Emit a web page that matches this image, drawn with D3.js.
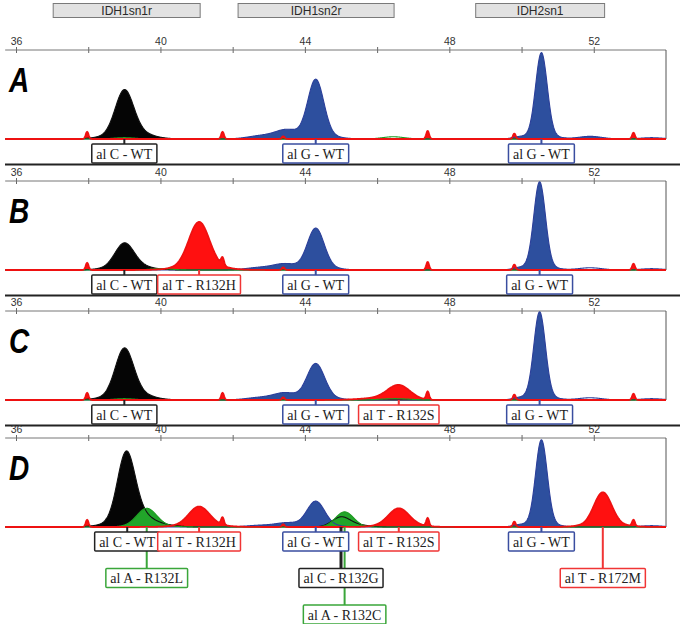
<!DOCTYPE html>
<html>
<head>
<meta charset="utf-8">
<script src="https://cdn.jsdelivr.net/npm/d3@7"></script>
<style>
html,body{margin:0;padding:0;background:#fff;}
svg{display:block;}
</style>
</head>
<body>
<svg id="chart" width="683" height="624"></svg>
<script>
// ---------------- DATA ----------------
const panelNames = ["A", "B", "C", "D"];
const majorTicks = [36, 40, 44, 48, 52];
const minorTicks = [38, 42, 46, 50];
const headerNames = ["IDH1sn1r", "IDH1sn2r", "IDH2sn1"];
const headerStart = [37.03, 42.15, 48.73];
const headerEnd = [41.10, 46.47, 52.30];

// size-standard markers (red spikes): position (bp), height (% of panel)
const markerPos = [37.97, 41.72, 43.40, 47.40, 49.80, 53.10];
const markerHeight = [8, 8, 3, 9, 6, 7];

// peaks: [dye, position bp, height %, width bp, called]
const peaksA = [
  ["black", 39.00, 48, 0.25, 1], ["black", 39.05, 6, 0.55, 0], ["black", 39.40, 3, 0.35, 0],
  ["blue", 44.30, 62, 0.22, 1], ["blue", 44.35, 5, 0.45, 0], ["blue", 43.50, 9, 0.30, 0], ["blue", 42.85, 4, 0.40, 0],
  ["blue", 50.55, 92, 0.16, 1], ["blue", 50.58, 5, 0.35, 0], ["blue", 49.95, 2, 0.20, 0], ["blue", 51.90, 3, 0.32, 0], ["blue", 53.60, 1.5, 0.30, 0],
  ["green", 46.45, 2.5, 0.30, 0], ["green", 39.00, 1.5, 0.30, 0]
];
const peaksB = [
  ["black", 39.00, 26, 0.26, 1], ["black", 39.05, 3.5, 0.55, 0], ["black", 39.40, 2, 0.35, 0],
  ["red", 41.07, 48, 0.28, 1], ["red", 41.10, 6, 0.55, 0],
  ["blue", 44.30, 43, 0.23, 1], ["blue", 44.35, 4, 0.45, 0], ["blue", 43.45, 6, 0.30, 0], ["blue", 42.80, 3, 0.40, 0],
  ["blue", 50.50, 94, 0.16, 1], ["blue", 50.53, 5, 0.35, 0], ["blue", 49.95, 2, 0.20, 0], ["blue", 51.90, 2.5, 0.32, 0], ["blue", 53.60, 1.5, 0.30, 0],
  ["green", 40.00, 1.5, 0.30, 0]
];
const peaksC = [
  ["black", 39.00, 51, 0.25, 1], ["black", 39.05, 6, 0.55, 0], ["black", 39.40, 3, 0.35, 0],
  ["blue", 44.30, 37, 0.24, 1], ["blue", 44.35, 4, 0.45, 0], ["blue", 43.45, 7, 0.30, 0], ["blue", 42.80, 3, 0.40, 0],
  ["red", 46.60, 16, 0.31, 1], ["red", 46.00, 2, 0.50, 0],
  ["blue", 50.50, 94, 0.16, 1], ["blue", 50.53, 5, 0.35, 0], ["blue", 49.95, 2, 0.20, 0], ["blue", 51.90, 2.5, 0.32, 0], ["blue", 53.60, 1.5, 0.30, 0],
  ["green", 39.00, 1.5, 0.30, 0], ["green", 46.50, 1.5, 0.40, 0]
];
const peaksD = [
  ["black", 39.05, 75, 0.24, 1], ["black", 39.10, 7, 0.55, 0], ["black", 39.45, 8, 0.30, 0], ["black", 40.00, 2, 0.40, 0],
  ["green", 39.62, 19, 0.27, 1], ["green", 39.65, 2, 0.50, 0],
  ["red", 41.07, 20, 0.28, 1], ["red", 41.10, 3, 0.55, 0],
  ["blue", 44.30, 26, 0.24, 1], ["blue", 44.35, 3, 0.45, 0], ["blue", 43.50, 4, 0.30, 0], ["blue", 42.80, 2, 0.40, 0],
  ["black", 45.00, 11, 0.25, 1], ["black", 45.50, 2, 0.30, 0],
  ["green", 45.10, 17, 0.25, 1],
  ["red", 46.60, 18, 0.28, 1], ["red", 46.62, 3, 0.50, 0],
  ["blue", 50.55, 93, 0.16, 1], ["blue", 50.58, 5, 0.35, 0], ["blue", 49.95, 2, 0.20, 0], ["blue", 53.60, 1.5, 0.30, 0],
  ["red", 52.25, 35, 0.24, 1], ["red", 52.28, 4, 0.50, 0]
];
const peaksByPanel = [peaksA, peaksB, peaksC, peaksD];

// allele labels: [text, dye, position bp, row]
const labelsA = [
  ["al C - WT", "black", 39.00, 1], ["al G - WT", "blue", 44.30, 1], ["al G - WT", "blue", 50.55, 1]
];
const labelsB = [
  ["al C - WT", "black", 39.00, 1], ["al T - R132H", "red", 41.07, 1],
  ["al G - WT", "blue", 44.30, 1], ["al G - WT", "blue", 50.50, 1]
];
const labelsC = [
  ["al C - WT", "black", 39.00, 1], ["al G - WT", "blue", 44.30, 1],
  ["al T - R132S", "red", 46.60, 1], ["al G - WT", "blue", 50.50, 1]
];
const labelsD = [
  ["al C - WT", "black", 39.08, 1], ["al T - R132H", "red", 41.07, 1],
  ["al A - R132L", "green", 39.62, 2],
  ["al G - WT", "blue", 44.30, 1], ["al C - R132G", "black", 45.00, 2],
  ["al A - R132C", "green", 45.10, 3], ["al T - R132S", "red", 46.60, 1],
  ["al G - WT", "blue", 50.55, 1], ["al T - R172M", "red", 52.25, 2]
];
const labelsByPanel = [labelsA, labelsB, labelsC, labelsD];

// ---------------- STYLE / LAYOUT ----------------
const fillColor = {black: "#050505", blue: "#2d4f9e", green: "#22a52a", red: "#ff1010"};
const lineColor = {black: "#111111", blue: "#2b3f9a", green: "#1e9a22", red: "#ee1111"};
const boxColor = {black: "#222222", blue: "#3a4ea0", green: "#3aa63a", red: "#f03535"};
const axisY = [50, 181, 311, 438];
const plotH = 89;
const separatorsY = [164.5, 295.5, 425.5];

const svg = d3.select("#chart");
const x = d3.scaleLinear().domain([36, 54]).range([16, 666]);
const step = 0.01;
const xs = d3.range(35.7, 54.0001, step);

// headers
headerNames.forEach((name, i) => {
  const x0 = x(headerStart[i]), x1 = x(headerEnd[i]);
  svg.append("rect").attr("x", x0).attr("y", 3.5).attr("width", x1 - x0).attr("height", 14)
    .attr("fill", "#e2e2e2").attr("stroke", "#7a7a7a").attr("stroke-width", 1);
  svg.append("text").attr("x", (x0 + x1) / 2).attr("y", 14.8).attr("text-anchor", "middle")
    .attr("font-family", "Liberation Sans, Arial, sans-serif").attr("font-size", 12)
    .attr("fill", "#2a2a2a").text(name);
});

// separators
separatorsY.forEach(sy => {
  svg.append("line").attr("x1", 5).attr("x2", 680).attr("y1", sy).attr("y2", sy)
    .attr("stroke", "#222").attr("stroke-width", 2);
});

const dyeOrder = ["blue", "black", "green", "red"];

panelNames.forEach((pname, pi) => {
  const top = axisY[pi];
  const base = top + plotH;
  const y = d3.scaleLinear().domain([0, 100]).range([base, top]);
  const g = svg.append("g");

  // axis
  const ax = g.append("g").attr("transform", `translate(0,${top})`)
    .call(d3.axisTop(x).tickValues(majorTicks.concat(minorTicks).sort((a, b) => a - b))
      .tickFormat(d => majorTicks.includes(d) ? d : "")
      .tickSizeInner(3).tickSizeOuter(0).tickPadding(2));
  ax.select(".domain").remove();
  ax.selectAll(".tick line").attr("y1", 3).attr("stroke", "#666");
  ax.selectAll(".tick text").attr("font-family", "Liberation Sans, Arial, sans-serif")
    .attr("font-size", 10.5).attr("fill", "#333");
  g.append("line").attr("x1", x(35.7)).attr("x2", x(54)).attr("y1", top).attr("y2", top)
    .attr("stroke", "#777").attr("stroke-width", 1);
  // right border
  g.append("line").attr("x1", x(54)).attr("x2", x(54)).attr("y1", top).attr("y2", base)
    .attr("stroke", "#555").attr("stroke-width", 1);

  // panel letter (condensed bold italic)
  g.append("text").attr("transform", `translate(9,${top + 42}) scale(0.8,1)`)
    .attr("font-family", "Liberation Sans Narrow, Arial Narrow, Liberation Sans, sans-serif")
    .attr("font-weight", "bold").attr("font-style", "italic").attr("font-size", 35)
    .attr("fill", "#000").text(pname);

  // build per-dye peak lists (markers belong to red)
  const peaks = peaksByPanel[pi].slice();
  markerPos.forEach((m, k) => peaks.push(["red", m, markerHeight[k], 0.04, 1]));
  const trace = dye => xs.map(v => {
    let s = 0;
    peaks.forEach(p => { if (p[0] === dye) s += p[2] * Math.exp(-0.5 * Math.pow((v - p[1]) / p[3], 2)); });
    return [v, s];
  });
  const traces = {};
  dyeOrder.forEach(d => traces[d] = trace(d));

  const area = d3.area().x(d => x(d[0])).y0(base).y1(d => y(d[1]));
  const line = d3.line().x(d => x(d[0])).y(d => y(d[1]));

  // filled called peaks: contiguous region around peak above threshold
  const thr = 1.0;
  dyeOrder.forEach(d => {
    const tr = traces[d];
    peaks.filter(p => p[0] === d && p[4]).forEach(p => {
      let c = Math.round((p[1] - xs[0]) / step);
      let lo = c, hi = c;
      while (lo > 0 && tr[lo - 1][1] > thr) lo--;
      while (hi < tr.length - 1 && tr[hi + 1][1] > thr) hi++;
      const seg = tr.slice(lo, hi + 1);
      g.append("path").attr("d", area(seg)).attr("fill", fillColor[d]);
    });
  });
  // trace outlines
  dyeOrder.forEach(d => {
    g.append("path").attr("d", line(traces[d])).attr("fill", "none")
      .attr("stroke", lineColor[d]).attr("stroke-width", d === "red" ? 1.8 : 1.1);
  });

  // labels
  const labs = labelsByPanel[pi];
  const rowTop = r => base + 5 + (r - 1) * 36.5;
  const boxH = 19;
  labs.forEach(l => {
    const cx = x(l[2]);
    g.append("line").attr("x1", cx).attr("x2", cx).attr("y1", base).attr("y2", rowTop(l[3]))
      .attr("stroke", boxColor[l[1]]).attr("stroke-width", l[1] === "black" && l[3] > 1 ? 3 : 2);
  });
  labs.forEach(l => {
    const cx = x(l[2]);
    const t = g.append("text").attr("x", cx).attr("y", rowTop(l[3]) + 14.5).attr("text-anchor", "middle")
      .attr("font-family", "Liberation Serif, Times New Roman, serif").attr("font-size", 14)
      .attr("fill", "#222").text(l[0]);
    const w = t.node().getComputedTextLength() + 9;
    g.insert("rect", function () { return t.node(); })
      .attr("x", cx - w / 2).attr("y", rowTop(l[3])).attr("width", w).attr("height", boxH)
      .attr("fill", "#fff").attr("stroke", boxColor[l[1]]).attr("stroke-width", 1.5).attr("rx", 1);
  });
});
</script>
</body>
</html>
